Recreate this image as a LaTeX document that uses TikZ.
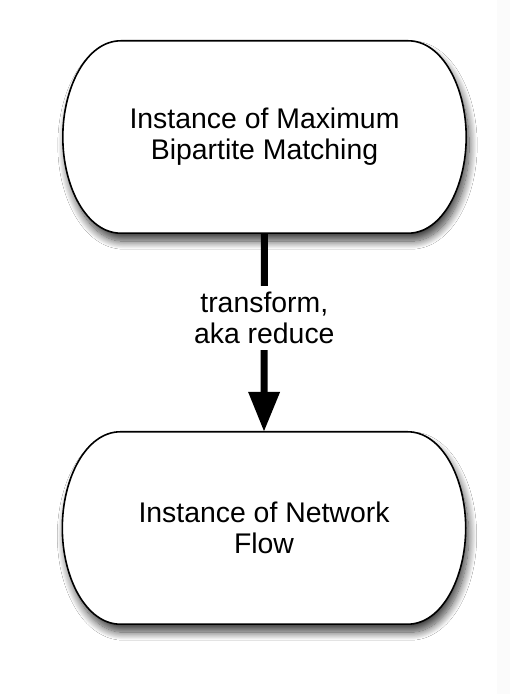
\documentclass[tikz,border=0pt]{standalone}
\usepackage{fontspec}
\setmainfont{Liberation Sans}
\usetikzlibrary{shadows.blur,arrows.meta,backgrounds}
\tikzset{
  procbox/.style={rectangle, draw=none, inner sep=0pt,
    minimum width=403pt, minimum height=192pt, align=center,
    font=\fontsize{28.4}{31}\selectfont},
  boxline/.style={draw=black, line width=1.6pt, fill=white,
    blur shadow={shadow xshift=3pt, shadow yshift=-8pt,
      shadow blur radius=8pt, shadow blur steps=14, shadow opacity=75}},
  flowarrow/.style={line width=7pt, -{Triangle[width=30pt,length=40pt]}},
  lbl/.style={fill=white, align=center, inner sep=6pt,
    font=\fontsize{28.4}{31}\selectfont}
}
\newcommand{\stadiumoutline}[1]{%
  \path[boxline] ([xshift=58pt]#1.north west) -- ([xshift=-58pt]#1.north east)
    .. controls +(34pt,0) and +(0,50pt) .. (#1.east)
    .. controls +(0,-50pt) and +(34pt,0) .. ([xshift=-58pt]#1.south east)
    -- ([xshift=58pt]#1.south west)
    .. controls +(-34pt,0) and +(0,-50pt) .. (#1.west)
    .. controls +(0,50pt) and +(-34pt,0) .. cycle;}
\begin{document}
\begin{tikzpicture}[x=1pt,y=1pt]
  \useasboundingbox (0,0) rectangle (510,694);
  \node[procbox] (top) at (264.5,557) {Instance of Maximum\\Bipartite Matching};
  \node[procbox] (bot) at (264,166) {Instance of Network\\Flow};
  \begin{scope}[on background layer]
    \fill[white] (0,0) rectangle (510,694);
    \fill[black!1.5] (497,0) rectangle (510,694);
    \stadiumoutline{top}
    \stadiumoutline{bot}
  \end{scope}
  \draw[flowarrow] (top.south) -- node[lbl, pos=0.425] (lab) {transform,\\aka reduce} (bot.north);
\end{tikzpicture}
\end{document}
